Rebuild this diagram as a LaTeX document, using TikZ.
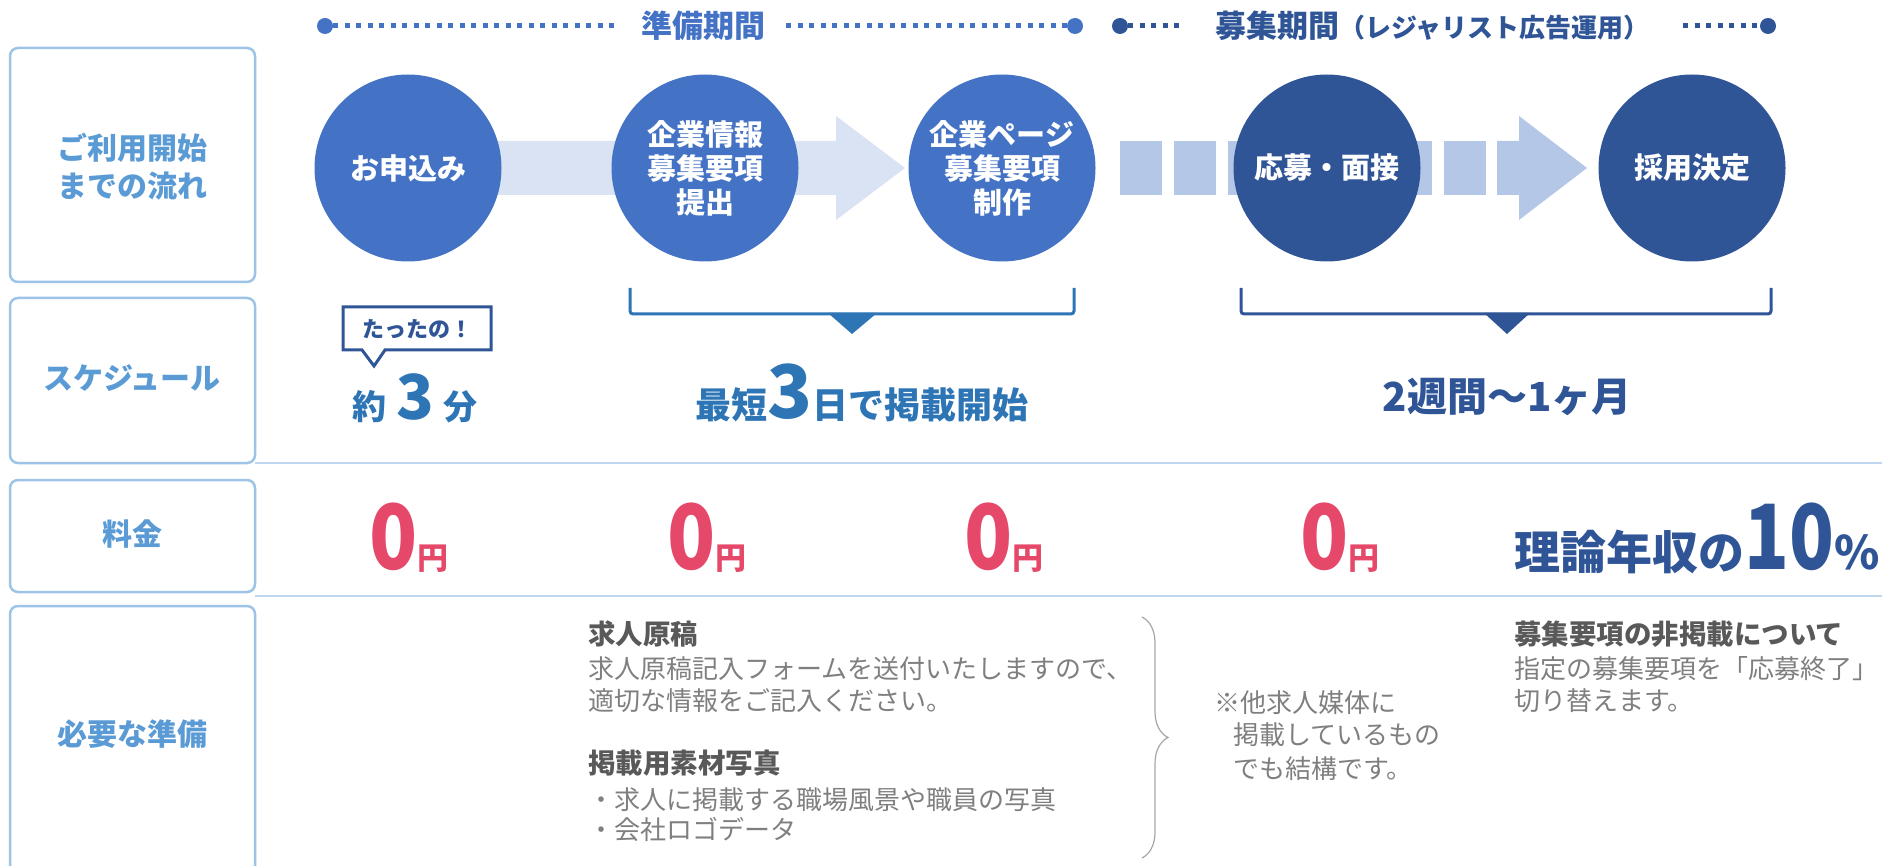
\documentclass[tikz,border=0pt]{standalone}
\usepackage{fontspec}
\setmainfont{Noto Sans CJK JP}
\usepackage{graphicx}
\usetikzlibrary{decorations.pathreplacing}

\definecolor{flowblue}{HTML}{4472C4}
\definecolor{flownavy}{HTML}{2F5597}
\definecolor{midblue}{HTML}{2E75B6}
\definecolor{lblblue}{HTML}{5B9BD5}
\definecolor{frameblue}{HTML}{9DC3E6}
\definecolor{ruleblue}{HTML}{BDD7EE}
\definecolor{arrowpale}{HTML}{DAE3F3}
\definecolor{arrowsoft}{HTML}{B4C7E7}
\definecolor{feered}{HTML}{E6486A}
\definecolor{headgray}{HTML}{595959}
\definecolor{bodygray}{HTML}{7F7F7F}
\definecolor{bracegray}{HTML}{A6A6A6}

\newcommand{\fsz}[1]{\fontsize{#1}{#1}\selectfont}
\newcommand{\narrowfig}[1]{\scalebox{0.88}[1]{#1}}

\begin{document}
\begin{tikzpicture}[x=1pt,y=-1pt,
  rowbox/.style={draw=frameblue,line width=2.5pt,rounded corners=8pt},
  rowlabel/.style={text=lblblue,font=\bfseries\fontsize{30}{38}\selectfont,align=center},
  stage/.style={circle,minimum size=187pt,inner sep=0pt,text=white,
    font=\bfseries\fontsize{29}{34}\selectfont,align=center},
  period/.style={font=\bfseries\fsz{31},inner xsep=21pt},
  pdot/.style={circle,fill,inner sep=0pt,minimum size=16pt},
  dotline/.style={line width=5pt,dash pattern=on 5pt off 6.5pt},
  bracket/.style={line width=3pt,rounded corners=3pt},
  fee/.style={text=feered,font=\bfseries,anchor=base},
  notehead/.style={text=headgray,font=\bfseries\fsz{27.5},anchor=base west,inner sep=0pt},
  note/.style={text=bodygray,font=\fsz{26},anchor=base west,inner sep=0pt},
  sepline/.style={draw=ruleblue,line width=1.5pt}]
\useasboundingbox (0,0) rectangle (1882,866);

\draw[rowbox] (10,48) rectangle (255,282);
\draw[rowbox] (10,298) rectangle (255,463);
\draw[rowbox] (10,480) rectangle (255,592);
\draw[rowbox] (10,606) rectangle (255,890);
\node (flowlbl) at (132,167) [rowlabel] {ご利用開始\\までの流れ};
\node (schedlbl) at (132,378) [rowlabel] {スケジュール};
\node (feelbl) at (132,534) [rowlabel] {料金};
\node (preplbl) at (132,734) [rowlabel] {必要な準備};
\draw[sepline] (255,463) -- (1882,463);
\draw[sepline] (255,596) -- (1882,596);

\node (d1) at (325,26) [pdot,flowblue] {};
\node (prep) at (703,26) [period,text=flowblue] {準備期間};
\node (d2) at (1075,26) [pdot,flowblue] {};
\draw[dotline,flowblue] (d1) -- (prep);
\draw[dotline,flowblue] (prep) -- (d2);
\node (d3) at (1120,26) [pdot,flownavy] {};
\node (recruit) at (1182,26) [period,text=flownavy,anchor=west,inner xsep=33pt] {募集期間{\fsz{26}（レジャリスト広告運用）}};
\node (d4) at (1768,26) [pdot,flownavy] {};
\draw[dotline,flownavy] (d3) -- (recruit);
\draw[dotline,flownavy] (recruit) -- (d4);

\fill[arrowpale] (470,141) -- (836,141) -- (836,116) -- (905,168) -- (836,220) -- (836,195) -- (470,195) -- cycle;
\foreach \bx in {1120,1174,...,1444}
  \fill[arrowsoft] (\bx,141) rectangle ++(42,54);
\fill[arrowsoft] (1497,141) -- (1519,141) -- (1519,116) -- (1587,168) -- (1519,220) -- (1519,195) -- (1497,195) -- cycle;

\node (s1) at (408,168) [stage,fill=flowblue] {お申込み};
\node (s2) at (705,168) [stage,fill=flowblue] {企業情報\\募集要項\\提出};
\node (s3) at (1002,168) [stage,fill=flowblue] {企業ページ\\募集要項\\制作};
\node (s4) at (1327,168) [stage,fill=flownavy] {応募・面接};
\node (s5) at (1692,168) [stage,fill=flownavy] {採用決定};

\draw[bracket,midblue] (630,288) -- (630,314) -- (1074,314) -- (1074,288);
\fill[midblue] (828,313) -- (877,313) -- (852,334) -- cycle;
\draw[bracket,flownavy] (1241,288) -- (1241,314) -- (1771,314) -- (1771,288);
\fill[flownavy] (1484,313) -- (1530,313) -- (1507,334) -- cycle;

\draw[flownavy,line width=3pt,fill=white] (343,307) -- (491,307) -- (491,350) -- (385,350) -- (374,366) -- (362,350) -- (343,350) -- cycle;
\node (tatta) at (417,329) [text=flownavy,font=\bfseries\fsz{22}] {たったの！};
\node (quick) at (415,420) [anchor=base,text=midblue,font=\bfseries\fsz{34}] {約\hspace{10pt}{\fsz{62}3}\hspace{10pt}分};
\node (launch) at (862,418) [anchor=base,text=midblue,font=\bfseries\fsz{36}] {最短{\fsz{74}3}日で掲載開始};
\node (span) at (1507,411) [anchor=base,text=flownavy,font=\bfseries\fsz{40}] {2週間〜1ヶ月};

\node (fee1) at (409,569) [fee] {\narrowfig{\fsz{90}0}\fsz{31}円};
\node (fee2) at (707,569) [fee] {\narrowfig{\fsz{90}0}\fsz{31}円};
\node (fee3) at (1004,569) [fee] {\narrowfig{\fsz{90}0}\fsz{31}円};
\node (fee4) at (1340,569) [fee] {\narrowfig{\fsz{90}0}\fsz{31}円};
\node (rate) at (1514,569) [anchor=base west,inner sep=0pt,text=flownavy,font=\bfseries] {\fsz{46}理論年収の\scalebox{0.82}[1]{\fsz{90}10}\fsz{46}\%};

\node (h1) at (588,644) [notehead] {求人原稿};
\node (n1) at (588,678) [note] {求人原稿記入フォームを送付いたしますので、};
\node (n2) at (588,710) [note] {適切な情報をご記入ください。};
\node (h2) at (588,773) [notehead] {掲載用素材写真};
\node (n3) at (588,809) [note] {・求人に掲載する職場風景や職員の写真};
\node (n4) at (588,839) [note] {・会社ロゴデータ};
\draw[bracegray,line width=1.2pt,decorate,decoration={brace,amplitude=26pt}] (1142,617) -- (1142,858);
\node (m1) at (1214,712) [note] {※他求人媒体に};
\node (m2) at (1233,744) [note] {掲載しているもの};
\node (m3) at (1233,778) [note] {でも結構です。};
\node (h3) at (1514,644) [notehead] {募集要項の非掲載について};
\node (n5) at (1514,678) [note] {指定の募集要項を「応募終了」};
\node (n6) at (1514,710) [note] {切り替えます。};
\end{tikzpicture}
\end{document}
